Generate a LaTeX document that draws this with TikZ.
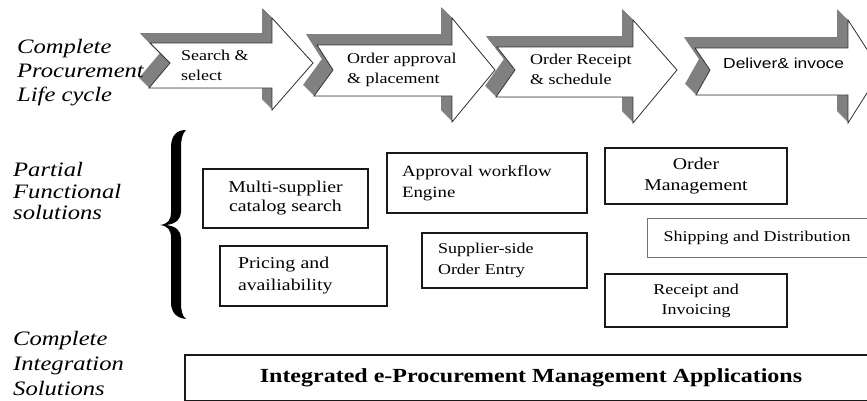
\documentclass[tikz,border=0pt]{standalone}
\usepackage{fontspec}
\setmainfont{Liberation Serif}[FakeStretch=1.2]
\newfontfamily\sanswide{Liberation Sans}[FakeStretch=1.2]
\begin{document}
\begin{tikzpicture}[x=1pt,y=-1pt]
\tikzset{
  shadefill/.style={fill=black!50, draw=none},
  arrowface/.style={fill=white, draw=black!80, line width=0.8pt, line join=miter},
  arrowtxt/.style={anchor=west, inner sep=0pt, align=left, text=black, font=\fontsize{15}{20}\selectfont},
  sidelbl/.style={anchor=west, inner sep=0pt, align=left, text=black},
  fbox/.style={draw=black!90, line width=1.1pt, inner ysep=0pt, text=black},
  arA/.style={insert path={(150,43) -- (272,43) -- (272,18) -- (313,63) -- (272,110) -- (272,88) -- (149,88) -- (170,63) -- cycle}},
  arB/.style={insert path={(317,45) -- (452,45) -- (452,18) -- (495,70) -- (452,122) -- (452,96) -- (314,96) -- (333,70) -- cycle}},
  arC/.style={insert path={(497,47) -- (633,47) -- (633,20) -- (677,70) -- (633,123) -- (633,97) -- (496,97) -- (515,70) -- cycle}},
  arD/.style={insert path={(695,48) -- (848,48) -- (848,20) -- (881,71) -- (848,123) -- (848,95) -- (696,95) -- (710,70) -- cycle}},
}
\useasboundingbox (0,0) rectangle (867,400);
\clip (0,0) rectangle (867,400);

% extruded grey shadows of the process arrows
\foreach \t in {0,0.5,...,10} { \path[shadefill, shift={(-\t,-\t)}, arA]; }
\foreach \t in {0,0.5,...,11} { \path[shadefill, shift={(-\t,-\t)}, arB]; }
\foreach \t in {0,0.5,...,11} { \path[shadefill, shift={(-\t,-\t)}, arC]; }
\foreach \t in {0,0.5,...,11} { \path[shadefill, shift={(-\t,-\t)}, arD]; }
% white arrow faces
\path[arrowface, arA];
\path[arrowface, arB];
\path[arrowface, arC];
\path[arrowface, arD];

% arrow texts
\node[arrowtxt] (t1) at (181,65) {Search \&\\select};
\node[arrowtxt] (t2) at (347,70) {Order approval\\\& placement};
\node[arrowtxt] (t3) at (530,69.5) {Order Receipt\\\& schedule};
\node[arrowtxt, font=\sanswide\fontsize{14.5}{18}\selectfont] (t4) at (723,63) {Deliver\& invoce};

% side labels
\node[sidelbl, font=\itshape\fontsize{20.5}{24}\selectfont] (l1) at (17,73) {Complete\\Procurement\\Life cycle};
\node[sidelbl, font=\itshape\fontsize{20.5}{21.5}\selectfont] (l2) at (13,191.5) {Partial\\Functional\\solutions};
\node[sidelbl, font=\itshape\fontsize{20.5}{25}\selectfont] (l3) at (13,363) {Complete\\Integration\\Solutions};

% brace
\fill[black] (186,130) .. controls (176,130) and (171,136) .. (171,148) -- (171,212)
  .. controls (171,220) and (168,224) .. (160,225) .. controls (168,226) and (171,230) .. (171,238)
  -- (171,302) .. controls (171,312) and (176,318) .. (186,319)
  .. controls (182,316) and (181,310) .. (181,302) -- (181,238)
  .. controls (181,231) and (176,226) .. (166,225) .. controls (176,224) and (181,219) .. (181,212)
  -- (181,148) .. controls (181,140) and (182,134) .. (186,130) -- cycle;

% partial functional solution boxes
\node[fbox, minimum width=165, minimum height=59, align=center, font=\fontsize{16.5}{19}\selectfont] (multi) at (285.5,198.5) {Multi-supplier\\catalog search};
\node[fbox, text width=131, inner xsep=18, minimum height=60, align=left, font=\fontsize{16.5}{22}\selectfont] (price) at (303.5,276) {Pricing and\\availiability};
\node[fbox, text width=170, inner xsep=15, minimum height=60, align=left, font=\fontsize{15.7}{21}\selectfont] (appr) at (487,183) {Approval workflow\\Engine};
\node[fbox, text width=133, inner xsep=16, minimum height=55, align=left, font=\fontsize{15}{21}\selectfont] (supp) at (504.5,260.5) {Supplier-side\\Order Entry};
\node[fbox, minimum width=182, minimum height=56, align=center, font=\fontsize{16.5}{21}\selectfont] (ordm) at (696,176) {Order\\Management};
\node[draw=black!55, line width=0.7pt, minimum width=220, minimum height=39, inner ysep=0pt, text=black, font=\fontsize{15}{18}\selectfont] (ship) at (757,237.5) {Shipping and Distribution};
\node[fbox, minimum width=182, minimum height=53, align=center, font=\fontsize{15}{20}\selectfont] (rcpt) at (696,300.5) {Receipt and\\Invoicing};

% integrated solution
\node[fbox, minimum width=692, minimum height=46, font=\bfseries\fontsize{20}{24}\selectfont] (integ) at (531,378) {Integrated e-Procurement Management Applications};
\end{tikzpicture}
\end{document}
